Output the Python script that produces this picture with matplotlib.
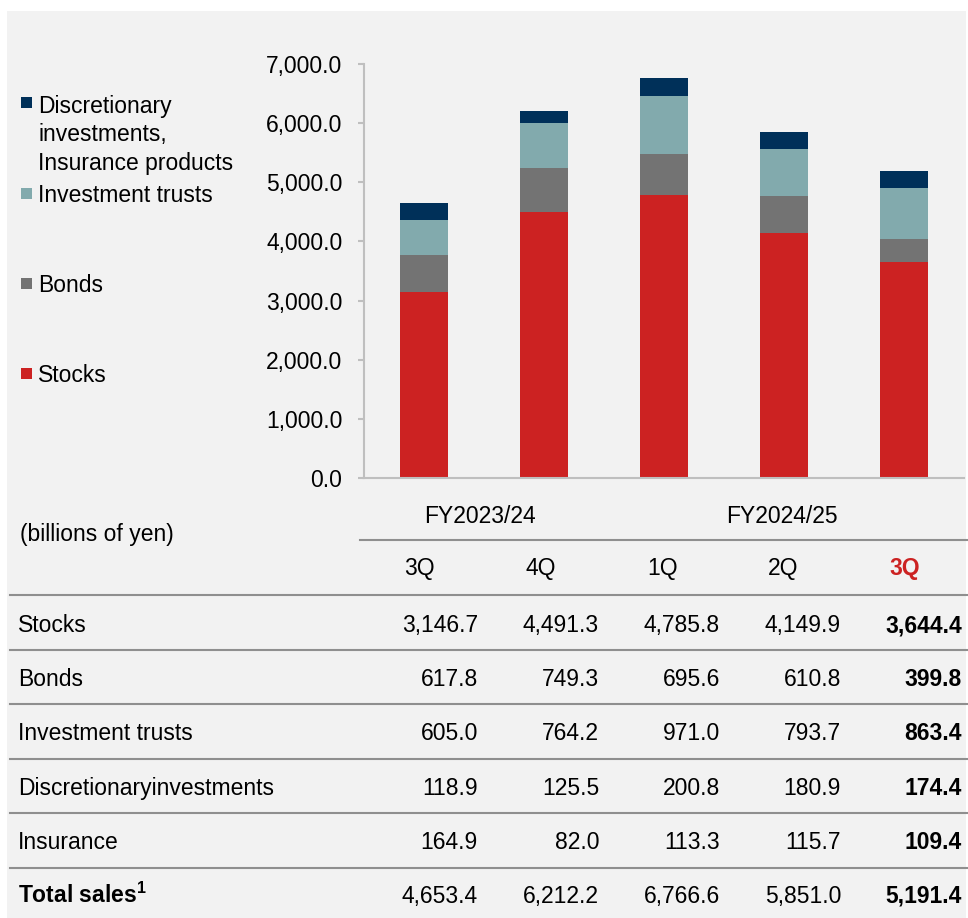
import numpy as np
import matplotlib
matplotlib.use("Agg")
import matplotlib.pyplot as plt
from matplotlib.patches import Rectangle
from matplotlib.lines import Line2D

plt.rcParams['font.family'] = ['Liberation Sans', 'DejaVu Sans']
plt.rcParams['mathtext.fontset'] = 'custom'
plt.rcParams['mathtext.bf'] = 'Liberation Sans:bold'
plt.rcParams['mathtext.rm'] = 'Liberation Sans'

# data (billions of yen)
quarters = ['3Q', '4Q', '1Q', '2Q', '3Q']
fiscal_years = ['FY2023/24', 'FY2024/25']
stocks = [3146.7, 4491.3, 4785.8, 4149.9, 3644.4]
bonds = [617.8, 749.3, 695.6, 610.8, 399.8]
inv_trusts = [605.0, 764.2, 971.0, 793.7, 863.4]
discretionary = [118.9, 125.5, 200.8, 180.9, 174.4]
insurance = [164.9, 82.0, 113.3, 115.7, 109.4]
total_sales = [4653.4, 6212.2, 6766.6, 5851.0, 5191.4]

row_labels = ['Stocks', 'Bonds', 'Investment trusts', 'Discretionaryinvestments',
              'Insurance', r'Total sales$^{\mathbf{1}}$']
rows = [stocks, bonds, inv_trusts, discretionary, insurance, total_sales]

c_stocks = '#cc2222'
c_bonds = '#737373'
c_trusts = '#82aaad'
c_disc = '#003059'
c_axis = '#bfbfbf'
c_rule = '#8f8f8f'

W, H = 968, 918
fs = 16.5


def fx(x):
    return x / W


def fy(y):
    return 1 - y / H


fig = plt.figure(figsize=(W / 100, H / 100), dpi=100, facecolor='white')
fig.patches.append(Rectangle((fx(7), 0), fx(966) - fx(7), fy(11), transform=fig.transFigure,
                             facecolor='#f2f2f2', edgecolor='none', zorder=-10))

# bar chart
ax = fig.add_axes([fx(364), fy(478), fx(964) - fx(364), fy(64) - fy(478)])
ax.set_facecolor('none')
x = np.arange(len(quarters))
top_seg = np.array(discretionary) + np.array(insurance)
bottom = np.zeros(len(x))
for vals, col in [(stocks, c_stocks), (bonds, c_bonds), (inv_trusts, c_trusts), (top_seg, c_disc)]:
    ax.bar(x, vals, width=0.4, bottom=bottom, color=col, linewidth=0)
    bottom += np.array(vals)

ax.set_xlim(-0.5, 4.5)
ax.set_ylim(0, 7000)
ax.set_yticks(np.arange(0, 7001, 1000))
ax.set_yticklabels(['{:,.1f}'.format(v) for v in np.arange(0, 7001, 1000)], fontsize=fs)
ax.set_xticks([])
for s in ['top', 'right']:
    ax.spines[s].set_visible(False)
for s in ['left', 'bottom']:
    ax.spines[s].set_color(c_axis)
    ax.spines[s].set_linewidth(1.5)
ax.tick_params(axis='y', length=4.5, width=1.5, color=c_axis, pad=11)

# legend drawn by hand (uneven spacing like the original)
legend_items = [('Discretionary\ninvestments,\nInsurance products', c_disc, 111),
                ('Investment trusts', c_trusts, 202),
                ('Bonds', c_bonds, 292),
                ('Stocks', c_stocks, 382)]
for label, col, base in legend_items:
    fig.patches.append(Rectangle((fx(21), fy(base - 3)), fx(11), 11 / H, transform=fig.transFigure,
                                 facecolor=col, edgecolor='none'))
    if '\n' in label:
        fig.text(fx(38), fy(base - 16), label, fontsize=fs, va='top', ha='left', linespacing=1.3)
    else:
        fig.text(fx(38), fy(base), label, fontsize=fs, va='baseline', ha='left')

# table below
fig.text(fx(20), fy(541), '(billions of yen)', fontsize=fs, va='baseline')
fig.text(fx(480), fy(523), fiscal_years[0], fontsize=fs, ha='center', va='baseline')
fig.text(fx(782), fy(523), fiscal_years[1], fontsize=fs, ha='center', va='baseline')
fig.add_artist(Line2D([fx(360), fx(968)], [fy(540), fy(540)], color=c_rule, lw=1.5))

q_centers = [419, 541, 663, 783, 905]
for i, (q, cx) in enumerate(zip(quarters, q_centers)):
    last = i == len(quarters) - 1
    fig.text(fx(cx), fy(575), q, fontsize=fs, ha='center', va='baseline',
             color=c_stocks if last else 'black', fontweight='bold' if last else 'normal')

rule_ys = [595, 650, 704, 759, 813, 868]
for ry in rule_ys:
    fig.add_artist(Line2D([fx(10), fx(968)], [fy(ry), fy(ry)], color=c_rule, lw=1.5))

col_right = [478, 599, 720, 841, 962]
for r, (label, vals) in enumerate(zip(row_labels, rows)):
    base = 632 + r * 54.2
    fig.text(fx(18), fy(base), label, fontsize=fs, va='baseline',
             fontweight='bold' if r == len(rows) - 1 else 'normal')
    for i, v in enumerate(vals):
        fig.text(fx(col_right[i]), fy(base), '{:,.1f}'.format(v), fontsize=fs, ha='right',
                 va='baseline', fontweight='bold' if i == len(vals) - 1 else 'normal')

fig.savefig('out.png', dpi=100, facecolor='white')
